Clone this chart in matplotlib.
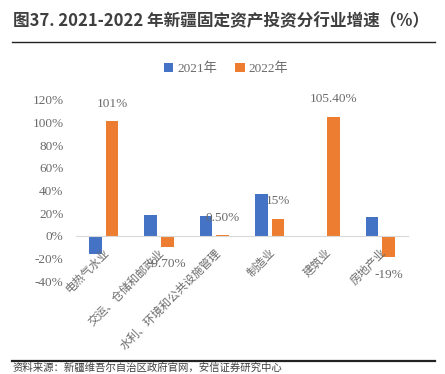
import numpy as np
import matplotlib
matplotlib.use("Agg")
import matplotlib.pyplot as plt
from matplotlib.lines import Line2D

plt.rcParams['font.family'] = ['Liberation Serif', 'Noto Sans CJK SC', 'DejaVu Sans']

# data
categories = ['电热气水业', '交运、仓储和邮政业', '水利、环境和公共设施管理',
              '制造业', '建筑业', '房地产业']
series_names = ['2021年', '2022年']
v2021 = [-16, 18.3, 17.4, 37, 0, 16.5]
v2022 = [101, -9.7, 0.5, 15, 105.4, -19]
labels_2022 = ['101%', '-9.70%', '0.50%', '15%', '105.40%', '-19%']
yticks = [-40, -20, 0, 20, 40, 60, 80, 100, 120]

blue = '#4472C4'
orange = '#ED7D31'
grey = '#6a6a6a'

W, H = 445, 374
fig = plt.figure(figsize=(W / 100, H / 100), dpi=100)
ax = fig.add_axes([76 / W, 1 - 281 / H, (408 - 76) / W, (281 - 100) / H])

x = np.arange(len(categories))
bw = 0.225
ax.bar(x - 0.15, v2021, bw, color=blue, label=series_names[0])
ax.bar(x + 0.15, v2022, bw, color=orange, label=series_names[1])

# data labels for 2022
for xi, v, t in zip(x, v2022, labels_2022):
    off = 12.5 if v >= 0 else -12.5
    ax.annotate(t, (xi + 0.15, v), xytext=(0, off), textcoords='offset points',
                ha='center', va='center', fontsize=9.5, color=grey)

ax.set_xlim(-0.5, len(categories) - 0.5)
ax.set_ylim(-40, 120)
ax.set_yticks(yticks)
ax.set_yticklabels([f'{t}%' for t in yticks], fontsize=9.5, color=grey)
ax.tick_params(axis='y', length=0, pad=9)

for s in ['top', 'right', 'left']:
    ax.spines[s].set_visible(False)
ax.spines['bottom'].set_position(('data', 0))
ax.spines['bottom'].set_color('#d9d9d9')
ax.set_xticks(x)
ax.set_xticklabels(categories, rotation=45, ha='right', va='top',
                   rotation_mode='anchor', fontsize=8.2, color=grey,
                   family=['Noto Sans CJK SC'])
ax.tick_params(axis='x', length=0, pad=8)

ax.legend(loc='center', bbox_to_anchor=(226 / W, 1 - 69 / H),
          bbox_transform=fig.transFigure, ncol=2, frameon=False,
          fontsize=9.5, labelcolor=grey, handlelength=0.7, handleheight=0.7,
          handletextpad=0.3, columnspacing=1.4)

# title and rules
fig.text(13 / W, 1 - 21 / H, '图37. 2021-2022 年新疆固定资产投资分行业增速（%）',
         fontsize=12, fontweight='bold', color='#3f3f3f', va='center',
         family=['Noto Sans CJK SC', 'DejaVu Sans'])
fig.add_artist(Line2D([12 / W, 435 / W], [1 - 42 / H, 1 - 42 / H],
                      color='#222222', lw=1.0, transform=fig.transFigure))
fig.add_artist(Line2D([12 / W, 435 / W], [1 - 361 / H, 1 - 361 / H],
                      color='#222222', lw=1.6, transform=fig.transFigure))
fig.text(13 / W, 1 - 372.5 / H, '资料来源：新疆维吾尔自治区政府官网，安信证券研究中心',
         fontsize=7.5, color='#404040', va='bottom',
         family=['Noto Sans CJK SC'])

fig.savefig('out.png', dpi=100)
